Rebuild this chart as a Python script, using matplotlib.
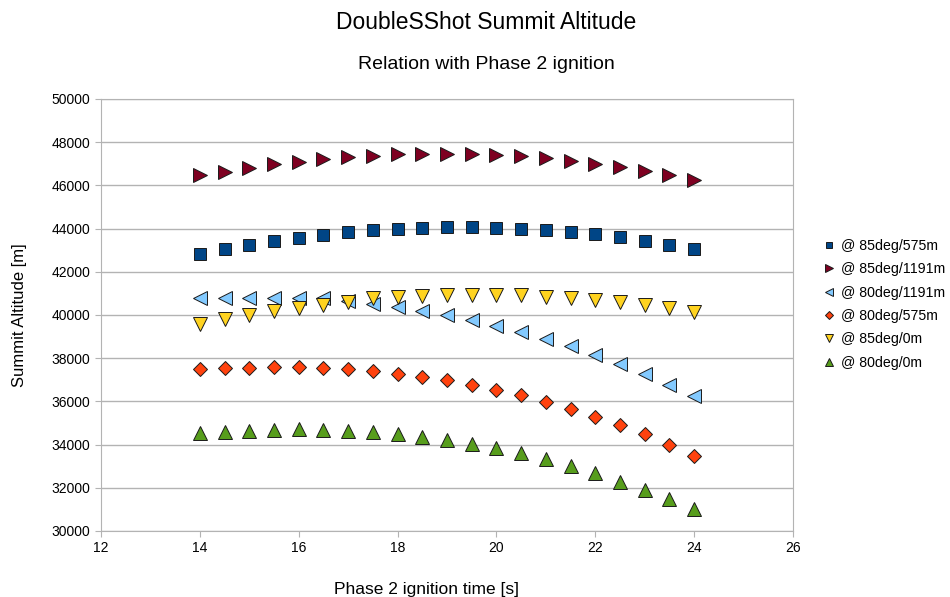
import matplotlib
matplotlib.use('Agg')
import matplotlib.pyplot as plt

# Phase 2 ignition times [s]
ignition_time = [14, 14.5, 15, 15.5, 16, 16.5, 17, 17.5, 18, 18.5, 19,
                 19.5, 20, 20.5, 21, 21.5, 22, 22.5, 23, 23.5, 24]

# Summit altitude [m] per configuration
alt_85_575 = [42830, 43050, 43240, 43420, 43575, 43715, 43820, 43915, 43980,
              44040, 44050, 44050, 44040, 43990, 43915, 43850, 43730, 43610,
              43440, 43250, 43050]
alt_85_1191 = [46490, 46640, 46825, 46980, 47100, 47210, 47330, 47380, 47440,
               47470, 47470, 47440, 47410, 47350, 47260, 47130, 46995, 46870,
               46680, 46490, 46240]
alt_80_1191 = [40790, 40790, 40790, 40790, 40770, 40800, 40630, 40510, 40355,
               40170, 40000, 39785, 39510, 39215, 38890, 38550, 38150, 37735,
               37290, 36780, 36240]
alt_80_575 = [37480, 37530, 37560, 37580, 37580, 37560, 37490, 37385, 37280,
              37125, 36970, 36770, 36510, 36280, 35970, 35650, 35280, 34890,
              34490, 34000, 33490]
alt_85_0 = [39580, 39800, 40020, 40170, 40340, 40460, 40600, 40780, 40830,
            40880, 40940, 40940, 40910, 40910, 40840, 40770, 40700, 40620,
            40470, 40320, 40130]
alt_80_0 = [34520, 34600, 34650, 34680, 34710, 34680, 34650, 34575, 34495,
            34370, 34220, 34035, 33835, 33605, 33325, 33015, 32680, 32290,
            31905, 31480, 31015]

series = [
    ('@ 85deg/575m', alt_85_575, 's', '#004586', 9),
    ('@ 85deg/1191m', alt_85_1191, '>', '#7e0021', 10),
    ('@ 80deg/1191m', alt_80_1191, '<', '#83caff', 10),
    ('@ 80deg/575m', alt_80_575, 'D', '#ff420e', 7.5),
    ('@ 85deg/0m', alt_85_0, 'v', '#ffd320', 10),
    ('@ 80deg/0m', alt_80_0, '^', '#579d1c', 10),
]

plt.rcParams['font.family'] = ['Liberation Sans', 'DejaVu Sans']

fig = plt.figure(figsize=(9.5, 5.97), dpi=100)
ax = fig.add_axes([0.1063, 0.1106, 0.7284, 0.7236])

for label, values, marker, color, ms in series:
    ax.plot(ignition_time, values, linestyle='none', marker=marker,
            markersize=ms, markerfacecolor=color, markeredgecolor='#1a1a1a',
            markeredgewidth=0.7, label=label)

ax.set_xlim(12, 26)
ax.set_ylim(30000, 50000)
ax.set_xticks(range(12, 27, 2))
ax.set_yticks(range(30000, 50001, 2000))
ax.tick_params(colors='#b3b3b3', labelcolor='black', labelsize=10,
               direction='out', length=4)
ax.grid(axis='y', color='#b3b3b3', linewidth=1)
ax.set_axisbelow(True)
for sp in ax.spines.values():
    sp.set_color('#b3b3b3')

ax.set_xlabel('Phase 2 ignition time [s]', fontsize=12.5, labelpad=19)
ax.xaxis.label.set_x(0.471)
ax.set_ylabel('Summit Altitude [m]', fontsize=12, labelpad=18)

fig.text(0.5116, 0.9514, 'DoubleSShot Summit Altitude', ha='center',
         va='baseline', fontsize=16.5)
fig.text(0.5116, 0.8844, 'Relation with Phase 2 ignition', ha='center',
         va='baseline', fontsize=14)

ax.legend(loc='center left', bbox_to_anchor=(1.024, 0.525), frameon=False,
          fontsize=10.2, markerscale=0.55, handlelength=1, handletextpad=0.3,
          labelspacing=0.66)

fig.savefig('out.png', dpi=100)
